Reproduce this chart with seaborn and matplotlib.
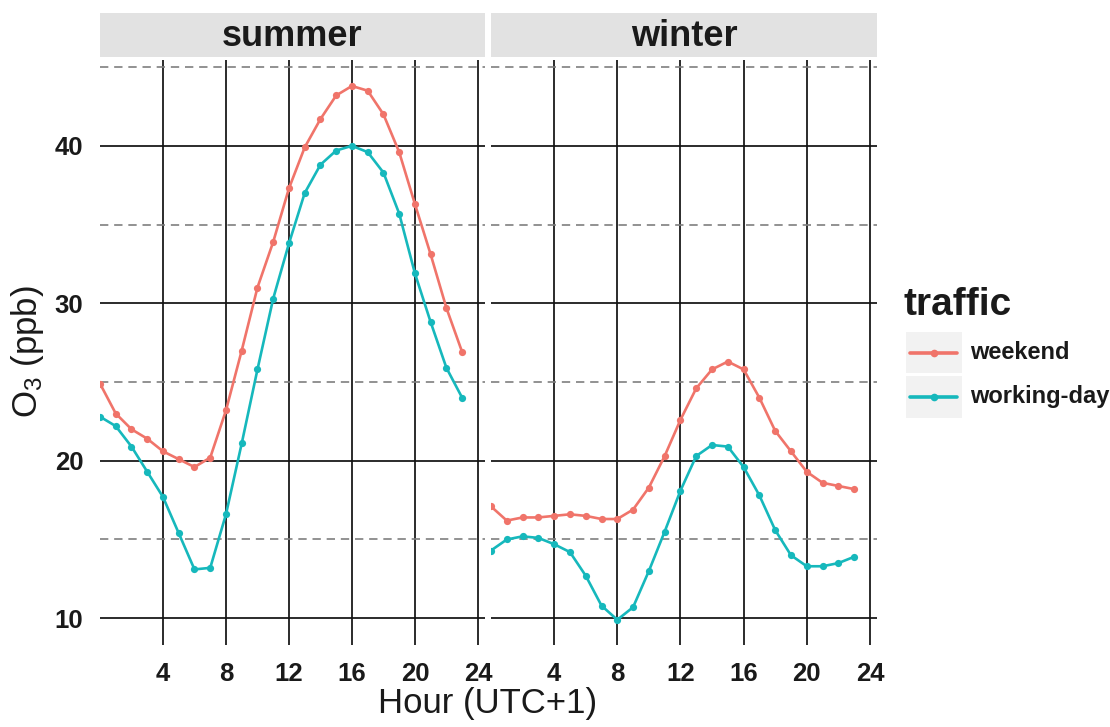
import numpy as np
import pandas as pd
import matplotlib
matplotlib.use("Agg")
import matplotlib.pyplot as plt
from matplotlib.lines import Line2D
from matplotlib.patches import Rectangle
from matplotlib.ticker import FixedLocator
import seaborn as sns

# Mean diurnal ozone cycle by season and day type
hours = list(range(24))
seasons = ["summer", "winter"]
traffic_levels = ["weekend", "working-day"]

summer_weekend = [24.9, 23.0, 22.0, 21.4, 20.6, 20.1, 19.6, 20.2, 23.2, 27.0, 31.0, 33.9,
                  37.3, 39.9, 41.7, 43.2, 43.8, 43.5, 42.0, 39.6, 36.3, 33.1, 29.7, 26.9]
summer_working = [22.8, 22.2, 20.9, 19.3, 17.7, 15.4, 13.1, 13.2, 16.6, 21.1, 25.8, 30.3,
                  33.8, 37.0, 38.8, 39.7, 40.0, 39.6, 38.3, 35.7, 31.9, 28.8, 25.9, 24.0]
winter_weekend = [17.1, 16.2, 16.4, 16.4, 16.5, 16.6, 16.5, 16.3, 16.3, 16.9, 18.3, 20.3,
                  22.6, 24.6, 25.8, 26.3, 25.8, 24.0, 21.9, 20.6, 19.3, 18.6, 18.4, 18.2]
winter_working = [14.3, 15.0, 15.2, 15.1, 14.7, 14.2, 12.7, 10.8, 9.9, 10.7, 13.0, 15.5,
                  18.1, 20.3, 21.0, 20.9, 19.6, 17.8, 15.6, 14.0, 13.3, 13.3, 13.5, 13.9]

x_ticks = [4, 8, 12, 16, 20, 24]
y_ticks = [10, 20, 30, 40]
y_minor = [15, 25, 35, 45]

series = {
    ("summer", "weekend"): summer_weekend,
    ("summer", "working-day"): summer_working,
    ("winter", "weekend"): winter_weekend,
    ("winter", "working-day"): winter_working,
}
rows = []
for (season, traffic), vals in series.items():
    for h, v in zip(hours, vals):
        rows.append({"season": season, "traffic": traffic, "hour": h, "O3": v})
df = pd.DataFrame(rows)

palette = {"weekend": "#F0746A", "working-day": "#16B8BC"}

sns.set_style("white")
plt.rcParams["font.family"] = ["Liberation Sans", "DejaVu Sans"]

W, H = 1110, 727
fig = plt.figure(figsize=(W / 100, H / 100), dpi=100)


def fx(px):
    return px / W


def fy(py):
    return 1 - py / H


panel_top, panel_bot = 60, 645
panels = {"summer": (100, 485), "winter": (491, 877)}
strip_top, strip_bot = 13, 57

for i, season in enumerate(seasons):
    left, right = panels[season]
    ax = fig.add_axes([fx(left), fy(panel_bot), fx(right - left), fy(panel_top) - fy(panel_bot)])
    sub = df[df["season"] == season]
    sns.lineplot(data=sub, x="hour", y="O3", hue="traffic", hue_order=traffic_levels,
                 palette=palette, marker="o", markersize=5.2, markeredgewidth=0,
                 linewidth=1.9, legend=False, ax=ax, zorder=3)
    ax.set_xlim(0, 24.45)
    ax.set_ylim(8.3, 45.45)
    ax.set_xticks(x_ticks)
    ax.set_yticks(y_ticks)
    ax.yaxis.set_minor_locator(FixedLocator(y_minor))
    ax.grid(which="major", color="#111111", linewidth=1.25, zorder=1)
    ax.grid(which="minor", axis="y", color="#7f7f7f", linewidth=1.2,
            linestyle=(0, (5, 3.5)), zorder=1)
    ax.set_axisbelow(True)
    for s in ax.spines.values():
        s.set_visible(False)
    ax.set_xlabel("")
    ax.set_ylabel("")
    ax.tick_params(axis="x", which="major", length=5, width=1.1, color="#8a8a8a",
                   direction="out", pad=7, labelsize=18.5)
    ax.tick_params(axis="y", which="minor", length=0)
    if i == 0:
        ax.tick_params(axis="y", which="major", length=5, width=1.1, color="#8a8a8a",
                       direction="out", pad=7, labelsize=18.5)
    else:
        ax.tick_params(axis="y", which="major", length=0, labelleft=False)
    for lab in ax.get_xticklabels() + ax.get_yticklabels():
        lab.set_fontweight("bold")
        lab.set_color("#1a1a1a")

    # facet strip
    fig.patches.append(Rectangle((fx(left), fy(strip_bot)), fx(right - left),
                                 fy(strip_top) - fy(strip_bot), transform=fig.transFigure,
                                 facecolor="#e2e2e2", edgecolor="none"))
    fig.text(fx((left + right) / 2), fy((strip_top + strip_bot) / 2 + 1), season,
             ha="center", va="center", fontsize=26, fontweight="bold", color="#1a1a1a")

# axis titles
fig.text(fx(488), fy(703), "Hour (UTC+1)", ha="center", va="center", fontsize=25,
         color="#1a1a1a")
fig.text(fx(28), fy(352), r"$\mathregular{O_3}$ (ppb)", ha="center", va="center",
         rotation=90, fontsize=25, color="#1a1a1a")

# legend
fig.text(fx(904), fy(305), "traffic", ha="left", va="center", fontsize=28,
         fontweight="bold", color="#1a1a1a")
key_rows = [(332, 373), (376, 418)]
for traffic, (t, b) in zip(traffic_levels, key_rows):
    fig.patches.append(Rectangle((fx(906), fy(b)), fx(56), fy(t) - fy(b),
                                 transform=fig.transFigure, facecolor="#f2f2f2",
                                 edgecolor="none"))
    cy = fy((t + b) / 2)
    fig.lines.append(Line2D([fx(910), fx(957)], [cy, cy], transform=fig.transFigure,
                            color=palette[traffic], linewidth=2.6, marker=None))
    fig.lines.append(Line2D([fx(933.5)], [cy], transform=fig.transFigure,
                            color=palette[traffic], marker="o", markersize=5.5,
                            markeredgewidth=0))
    fig.text(fx(970), cy, traffic, ha="left", va="center", fontsize=17,
             fontweight="bold", color="#1a1a1a")

fig.savefig("out.png", dpi=100, facecolor="white")
